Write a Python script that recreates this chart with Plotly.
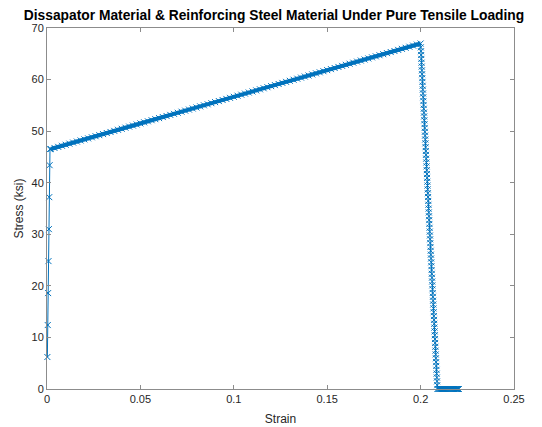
import plotly.graph_objects as go

# Elastic branch
elastic_strain = [0.0002, 0.0004, 0.0006, 0.0008, 0.0010, 0.0012, 0.0014, 0.0016]
elastic_stress = [6.2, 12.4, 18.6, 24.8, 31.0, 37.2, 43.4, 46.5]

# Hardening branch
hard_strain = [
    0.002, 0.004, 0.006, 0.008, 0.010, 0.012, 0.014, 0.016, 0.018, 0.020,
    0.022, 0.024, 0.026, 0.028, 0.030, 0.032, 0.034, 0.036, 0.038, 0.040,
    0.042, 0.044, 0.046, 0.048, 0.050, 0.052, 0.054, 0.056, 0.058, 0.060,
    0.062, 0.064, 0.066, 0.068, 0.070, 0.072, 0.074, 0.076, 0.078, 0.080,
    0.082, 0.084, 0.086, 0.088, 0.090, 0.092, 0.094, 0.096, 0.098, 0.100,
    0.102, 0.104, 0.106, 0.108, 0.110, 0.112, 0.114, 0.116, 0.118, 0.120,
    0.122, 0.124, 0.126, 0.128, 0.130, 0.132, 0.134, 0.136, 0.138, 0.140,
    0.142, 0.144, 0.146, 0.148, 0.150, 0.152, 0.154, 0.156, 0.158, 0.160,
    0.162, 0.164, 0.166, 0.168, 0.170, 0.172, 0.174, 0.176, 0.178, 0.180,
    0.182, 0.184, 0.186, 0.188, 0.190, 0.192, 0.194, 0.196, 0.198, 0.200,
]
hard_stress = [
    46.54, 46.74, 46.95, 47.16, 47.36, 47.57, 47.78, 47.98, 48.19, 48.40,
    48.60, 48.81, 49.02, 49.22, 49.43, 49.64, 49.84, 50.05, 50.26, 50.46,
    50.67, 50.88, 51.08, 51.29, 51.50, 51.71, 51.91, 52.12, 52.32, 52.53,
    52.73, 52.94, 53.15, 53.35, 53.56, 53.77, 53.97, 54.18, 54.39, 54.59,
    54.80, 55.01, 55.21, 55.42, 55.63, 55.83, 56.04, 56.25, 56.45, 56.66,
    56.87, 57.07, 57.28, 57.49, 57.69, 57.90, 58.11, 58.31, 58.52, 58.73,
    58.93, 59.14, 59.35, 59.55, 59.76, 59.97, 60.17, 60.38, 60.59, 60.79,
    61.00, 61.21, 61.41, 61.62, 61.83, 62.03, 62.24, 62.45, 62.65, 62.86,
    63.07, 63.27, 63.48, 63.69, 63.89, 64.10, 64.31, 64.51, 64.72, 64.92,
    65.13, 65.34, 65.54, 65.75, 65.96, 66.16, 66.37, 66.58, 66.78, 66.99,
]

# Softening branch
soft_strain = [
    0.2001, 0.2002, 0.2003, 0.2004, 0.2005, 0.2006, 0.2007, 0.2008, 0.2009, 0.2010,
    0.2011, 0.2012, 0.2013, 0.2014, 0.2015, 0.2016, 0.2017, 0.2018, 0.2019, 0.2020,
    0.2021, 0.2022, 0.2023, 0.2024, 0.2025, 0.2026, 0.2027, 0.2028, 0.2029, 0.2030,
    0.2031, 0.2032, 0.2033, 0.2034, 0.2035, 0.2036, 0.2037, 0.2038, 0.2039, 0.2040,
    0.2041, 0.2042, 0.2043, 0.2044, 0.2045, 0.2046, 0.2047, 0.2048, 0.2049, 0.2050,
    0.2051, 0.2052, 0.2053, 0.2054, 0.2055, 0.2056, 0.2057, 0.2058, 0.2059, 0.2060,
    0.2061, 0.2062, 0.2063, 0.2064, 0.2065, 0.2066, 0.2067, 0.2068, 0.2069, 0.2070,
    0.2071, 0.2072, 0.2073, 0.2074, 0.2075, 0.2076, 0.2077, 0.2078, 0.2079, 0.2080,
    0.2081, 0.2082, 0.2083, 0.2084, 0.2085, 0.2086, 0.2087, 0.2088, 0.2089, 0.2090,
]
soft_stress = [
    66.25, 65.50, 64.76, 64.01, 63.27, 62.52, 61.78, 61.04, 60.29, 59.55,
    58.80, 58.06, 57.31, 56.57, 55.83, 55.08, 54.34, 53.59, 52.85, 52.10,
    51.36, 50.62, 49.87, 49.13, 48.38, 47.64, 46.89, 46.15, 45.40, 44.66,
    43.92, 43.17, 42.43, 41.68, 40.94, 40.19, 39.45, 38.71, 37.96, 37.22,
    36.47, 35.73, 34.98, 34.24, 33.50, 32.75, 32.01, 31.26, 30.52, 29.77,
    29.03, 28.29, 27.54, 26.80, 26.05, 25.31, 24.56, 23.82, 23.08, 22.33,
    21.59, 20.84, 20.10, 19.35, 18.61, 17.87, 17.12, 16.38, 15.63, 14.89,
    14.14, 13.40, 12.65, 11.91, 11.17, 10.42, 9.68, 8.93, 8.19, 7.44,
    6.70, 5.96, 5.21, 4.47, 3.72, 2.98, 2.23, 1.49, 0.74, 0.00,
]

# Fractured (zero stress) branch
zero_strain = [
    0.2095, 0.2100, 0.2105, 0.2110, 0.2115, 0.2120, 0.2125, 0.2130, 0.2135, 0.2140,
    0.2145, 0.2150, 0.2155, 0.2160, 0.2165, 0.2170, 0.2175, 0.2180, 0.2185, 0.2190,
    0.2195, 0.2200, 0.2205,
]
zero_stress = [
    0.0, 0.0, 0.0, 0.0, 0.0, 0.0, 0.0, 0.0, 0.0, 0.0,
    0.0, 0.0, 0.0, 0.0, 0.0, 0.0, 0.0, 0.0, 0.0, 0.0,
    0.0, 0.0, 0.0,
]

x_ticks = [0, 0.05, 0.1, 0.15, 0.2, 0.25]
x_tick_text = ["0", "0.05", "0.1", "0.15", "0.2", "0.25"]
y_ticks = [0, 10, 20, 30, 40, 50, 60, 70]

strain = elastic_strain + hard_strain + soft_strain + zero_strain
stress = elastic_stress + hard_stress + soft_stress + zero_stress

FONT = "Liberation Sans, Arial, sans-serif"
blue = "#0072BD"
fig = go.Figure()
# dense overlapping markers of the hardening and fractured branches form a solid band
fig.add_trace(go.Scatter(
    x=hard_strain, y=hard_stress, mode="lines",
    line=dict(color=blue, width=4), showlegend=False, hoverinfo="skip",
))
fig.add_trace(go.Scatter(
    x=zero_strain, y=zero_stress, mode="lines",
    line=dict(color=blue, width=5), showlegend=False, hoverinfo="skip", cliponaxis=False,
))
fig.add_trace(go.Scatter(
    x=strain, y=stress, mode="lines+markers",
    line=dict(color=blue, width=1),
    marker=dict(symbol="x-thin", size=6, line=dict(color=blue, width=1), color=blue),
    showlegend=False, cliponaxis=False,
))

axis_common = dict(
    showgrid=False, zeroline=False, showline=True, linecolor="#8c8c8c", linewidth=1,
    mirror="ticks", ticks="inside", ticklen=4, tickcolor="#8c8c8c", tickwidth=1,
    tickfont=dict(family=FONT, size=11, color="#262626"),
    automargin=False,
)
fig.update_xaxes(range=[0, 0.25], tickvals=x_ticks, ticktext=x_tick_text,
                 title=dict(text="Strain", standoff=10,
                            font=dict(family=FONT, size=12, color="#262626")),
                 **axis_common)
fig.update_yaxes(range=[0, 70], tickvals=y_ticks,
                 title=dict(text="Stress (ksi)", standoff=5,
                            font=dict(family=FONT, size=12, color="#262626")),
                 **axis_common)
fig.update_layout(
    width=542, height=427,
    margin=dict(l=47, r=28, t=28, b=38),
    paper_bgcolor="white", plot_bgcolor="white",
    title=dict(text="<b>Dissapator Material & Reinforcing Steel Material Under Pure Tensile Loading</b>",
               x=274 / 542, xanchor="center", y=1 - 15 / 427, yanchor="middle",
               font=dict(family=FONT, size=13.8, color="#000000")),
)
fig.write_html("out.html", config={"displayModeBar": False},
               post_script="document.body.style.margin='0';document.body.style.overflow='hidden';")
